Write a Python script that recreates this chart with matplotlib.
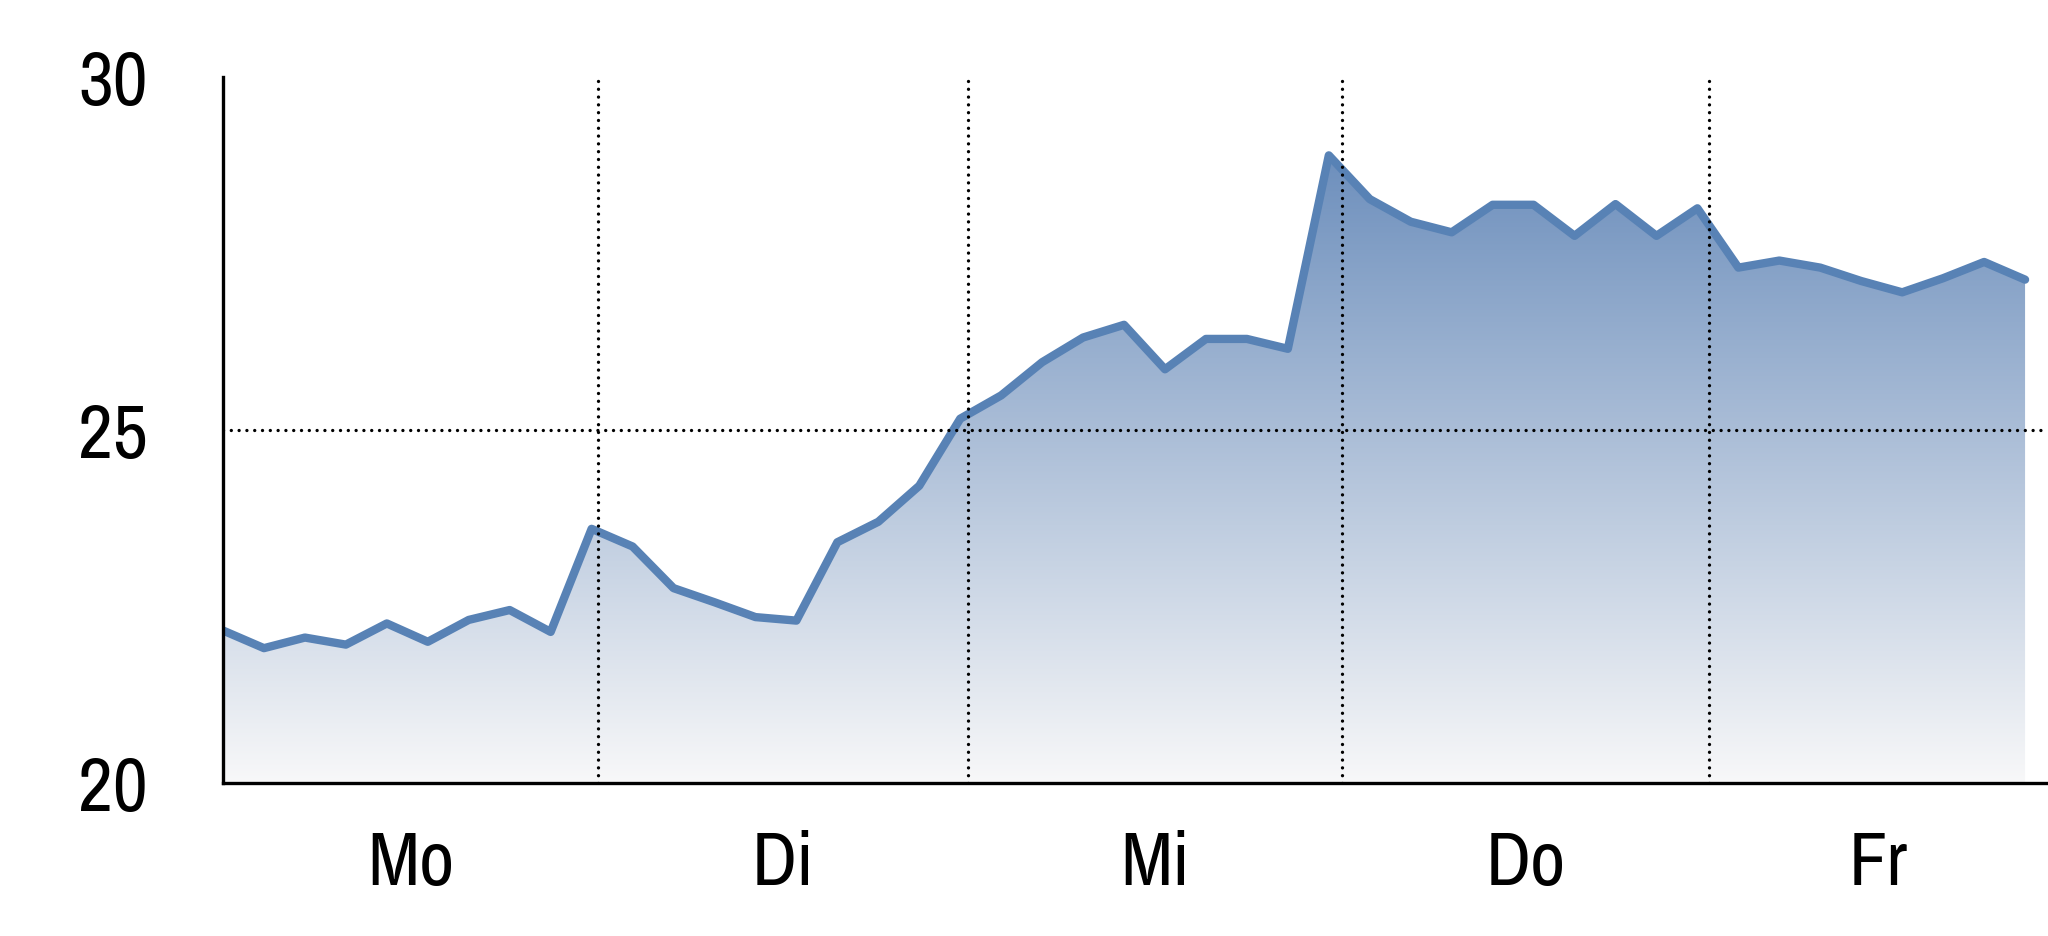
import numpy as np
import matplotlib
matplotlib.use("Agg")
import matplotlib.pyplot as plt
from matplotlib import font_manager
from matplotlib.colors import LinearSegmentedColormap

# ---- data ----
values = [22.16, 21.91, 22.06, 21.96, 22.26, 22.00, 22.31, 22.45, 22.14, 23.60,
          23.35, 22.76, 22.56, 22.35, 22.30, 23.41, 23.70, 24.21, 25.16, 25.49,
          25.96, 26.31, 26.49, 25.86, 26.29, 26.29, 26.15, 28.89, 28.27, 27.95,
          27.80, 28.19, 28.19, 27.75, 28.20, 27.75, 28.14, 27.30, 27.40, 27.30,
          27.11, 26.95, 27.15, 27.38, 27.13]
x_index = list(range(len(values)))
day_labels = ["Mo", "Di", "Mi", "Do", "Fr"]
day_bounds = [9.16, 18.2, 27.32, 36.28]
y_ticks = [20, 25, 30]

# ---- font ----
fam = "Liberation Sans"
for f in font_manager.fontManager.ttflist:
    if "Narrow" in f.name or "Narrow" in f.fname:
        fam = f.name
        break
plt.rcParams["font.family"] = [fam, "DejaVu Sans"]

fig = plt.figure(figsize=(20.48, 9.37), dpi=100)
ax = fig.add_axes([0.10889, 0.16329, 0.89111, 0.75347])

x_max = 44.56
ax.set_xlim(0, x_max)
ax.set_ylim(20, 30)

line_color = "#5882B5"

# gradient fill under the line
poly = ax.fill_between(x_index, values, 20, facecolor="none", edgecolor="none")
cmap = LinearSegmentedColormap.from_list("g", [(0.972, 0.972, 0.975), (0.36, 0.51, 0.71)])
grad = np.linspace(0, 1, 256).reshape(-1, 1)
im = ax.imshow(grad, extent=[0, x_index[-1], 20, 30], origin="lower", cmap=cmap,
               aspect="auto", zorder=1, interpolation="bilinear")
im.set_clip_path(poly.get_paths()[0], transform=ax.transData)

ax.plot(x_index, values, color=line_color, lw=6.0, solid_joinstyle="round",
        solid_capstyle="round", zorder=3)

# dotted guides
dot_style = dict(color="black", lw=2.4, ls=(0, (0.01, 2.33)),
                 dash_capstyle="round", zorder=4)
ax.axhline(25, **dot_style)
for b in day_bounds:
    ax.axvline(b, **dot_style)

# spines
for s in ["top", "right"]:
    ax.spines[s].set_visible(False)
for s in ["left", "bottom"]:
    ax.spines[s].set_linewidth(2.4)
    ax.spines[s].set_color("black")
    ax.spines[s].set_zorder(5)

ax.set_yticks(y_ticks)
ax.set_yticklabels([str(t) for t in y_ticks])
edges = [0] + day_bounds + [x_max]
centers = [(edges[i] + edges[i + 1]) / 2 for i in range(len(day_labels))]
ax.set_xticks(centers)
ax.set_xticklabels(day_labels)
ax.tick_params(axis="both", length=0, labelsize=55, colors="black")
ax.tick_params(axis="y", pad=54)
ax.tick_params(axis="x", pad=33)

fig.savefig("out.png", dpi=100, facecolor="white")
